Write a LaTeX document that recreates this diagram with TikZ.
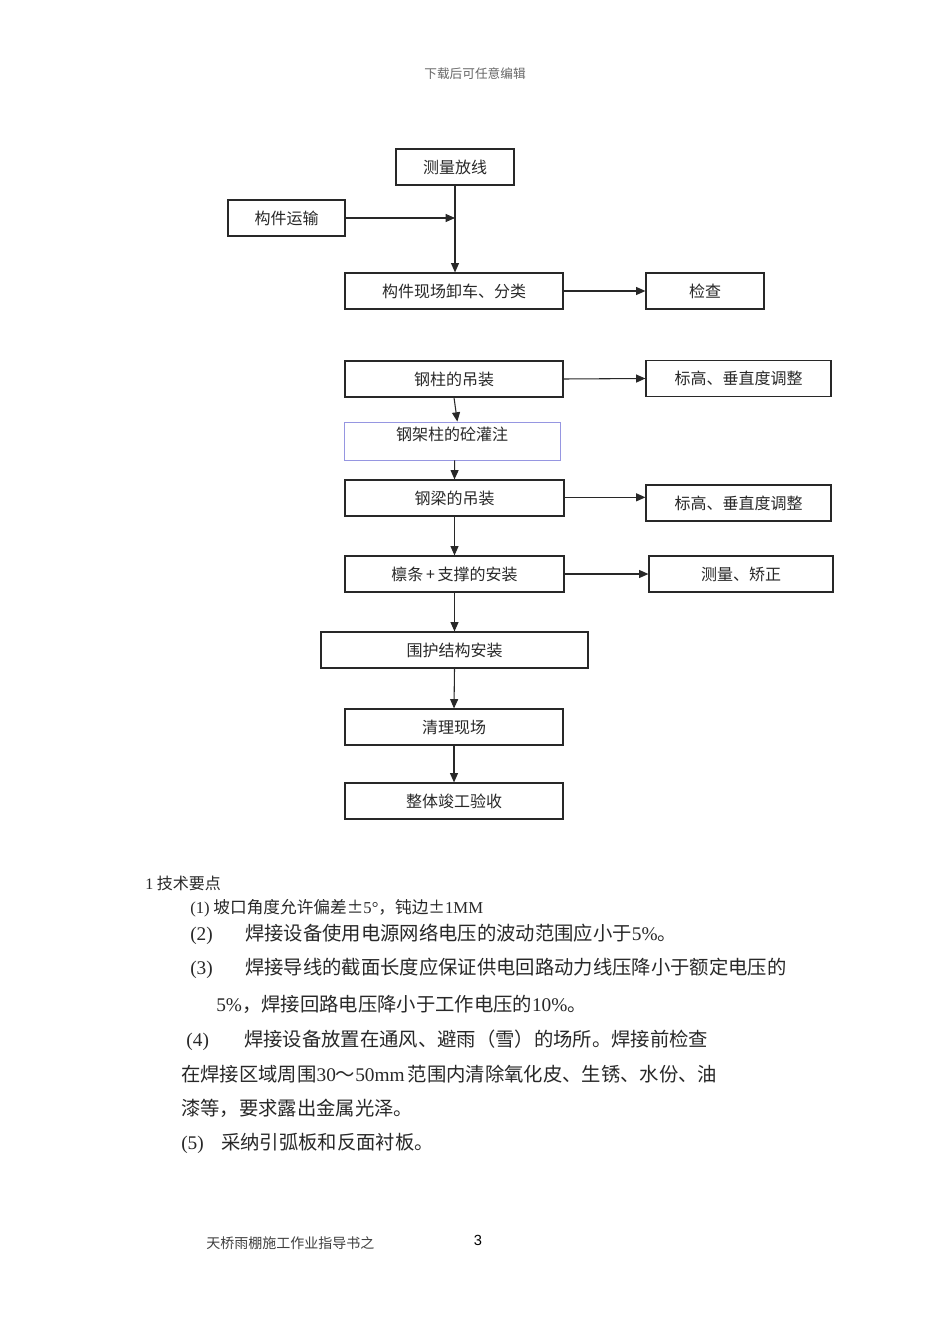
\documentclass[tikz,border=0pt]{standalone}
\usepackage{fontspec}
\setmainfont{Liberation Serif}
\newfontfamily\cjk{Noto Sans CJK SC}
\newfontfamily\arialfont{Liberation Sans}
\usetikzlibrary{arrows.meta}
\definecolor{boxblue}{RGB}{150,150,225}
\definecolor{txtgray}{RGB}{40,40,40}
\newcommand{\lat}[1]{{\rmfamily #1}}

\begin{document}
\begin{tikzpicture}[x=0.75pt, y=-0.75pt,
    box/.style={draw=txtgray, line width=0.9pt, minimum height=27pt, inner sep=0pt,
        text=txtgray, font=\cjk\fontsize{12}{14}\selectfont},
    flow/.style={-{Triangle[length=7pt, width=6pt]}, line width=0.8pt, txtgray},
    body/.style={anchor=west, inner sep=0pt, text=txtgray, font=\cjk\fontsize{14.5}{17}\selectfont}]
    % Seite
    \fill[white] (0,0) rectangle (950,1344);
    \useasboundingbox (0,0) rectangle (950,1344);
    \node[text=black!60, font=\cjk\fontsize{9.5}{11}\selectfont] (yemei) at (475,74) {下载后可任意编辑};
    % Ablauf
    \node[box, minimum width=88.5pt] (celiang) at (455,167) {测量放线};
    \node[box, minimum width=87.75pt] (yunshu) at (286.5,218) {构件运输};
    \node[box, minimum width=163.5pt] (xieche) at (454,291) {构件现场卸车、分类};
    \node[box, minimum width=88.5pt] (jiancha) at (705,291) {检查};
    \node[box, minimum width=163.5pt] (gangzhu) at (454,379) {钢柱的吊装};
    \node[box, minimum width=138.75pt] (biaogaoA) at (738.5,378.5) {标高、垂直度调整};
    \node[box, draw=boxblue, line width=0.6pt, minimum width=162pt, minimum height=28.5pt,
        text depth=11pt] (guanzhu) at (452,441) {钢架柱的砼灌注};
    \node[box, minimum width=164.25pt] (gangliang) at (454.5,498) {钢梁的吊装};
    \node[box, minimum width=138.75pt] (biaogaoB) at (738.5,503) {标高、垂直度调整};
    \node[box, minimum width=164.25pt] (lintiao) at (454.5,574) {檩条\,+\,支撑的安装};
    \node[box, minimum width=138pt] (jiaozheng) at (741,574) {测量、矫正};
    \node[box, minimum width=200.25pt] (weihu) at (454.5,650) {围护结构安装};
    \node[box, minimum width=163.5pt] (qingli) at (454,727) {清理现场};
    \node[box, minimum width=163.5pt] (yanshou) at (454,801) {整体竣工验收};
    \coordinate (hui) at (celiang.south |- yunshu.east);
    % Pfeile
    \draw[flow] (celiang.south) -- (celiang.south |- xieche.north);
    \draw[flow] (yunshu.east) -- (hui);
    \draw[flow] (xieche.east) -- (jiancha.west);
    \draw[flow] (gangzhu.east) -- (biaogaoA.west);
    \draw[flow] (gangzhu.south) -- ([xshift=4pt]guanzhu.north);
    \draw[flow] ([xshift=2pt]guanzhu.south) -- (gangliang.north);
    \draw[flow] ([yshift=0.5pt]gangliang.east) -- ([yshift=0.5pt]gangliang.east -| biaogaoB.west);
    \draw[flow] (gangliang.south) -- (lintiao.north);
    \draw[flow] (lintiao.east) -- (jiaozheng.west);
    \draw[flow] (lintiao.south) -- (weihu.north);
    \draw[flow] (weihu.south) -- (qingli.north);
    \draw[flow] (qingli.south) -- (yanshou.north);
    % Text
    \node[body, font=\cjk\fontsize{12}{14}\selectfont] (yaodian) at (145,883) {\lat{1} 技术要点};
    \node[body, font=\cjk\fontsize{12.5}{14}\selectfont] (dianA) at (190,908) {\lat{(1)} 坡口角度允许偏差±\lat{5°}，钝边±\lat{1MM}};
    \node[body] (dianB) at (190,934) {\makebox[41.25pt][l]{\lat{(2)}}焊接设备使用电源网络电压的波动范围应小于\lat{5\%}。};
    \node[body] (dianC) at (190,968) {\makebox[41.25pt][l]{\lat{(3)}}焊接导线的截面长度应保证供电回路动力线压降小于额定电压的};
    \node[body] (dianCb) at (216,1004) {\lat{5\%}，焊接回路电压降小于工作电压的\lat{10\%}。};
    \node[body] (dianD) at (183,1040) {\makebox[45.75pt][l]{\lat{\,(4)}}焊接设备放置在通风、避雨（雪）的场所。焊接前检查};
    \node[body] (dianDb) at (181,1074) {在焊接区域周围\lat{30}～\lat{50mm}\,范围内清除氧化皮、生锈、水份、油};
    \node[body] (dianDc) at (181,1108) {漆等，要求露出金属光泽。};
    \node[body] (dianE) at (181,1143) {\makebox[30pt][l]{\lat{(5)}}采纳引弧板和反面衬板。};
    % Fuss
    \node[body, text=black!75, font=\cjk\fontsize{10.5}{12}\selectfont] (yejiao) at (206,1243) {天桥雨棚施工作业指导书之};
    \node[text=black, font=\arialfont\fontsize{11}{13}\selectfont] (yema) at (478,1240) {3};
\end{tikzpicture}
\end{document}
